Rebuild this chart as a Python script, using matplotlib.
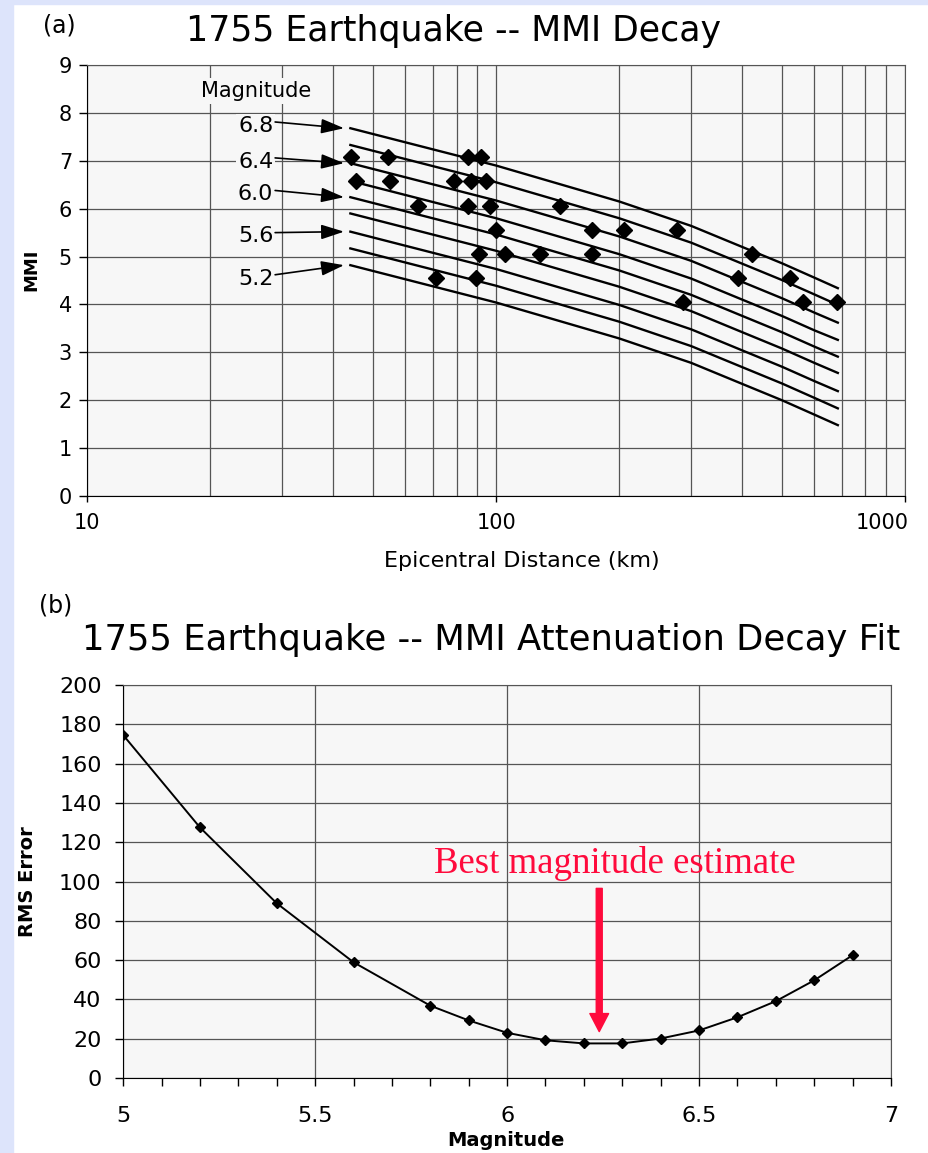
import matplotlib
matplotlib.use('Agg')
import matplotlib.pyplot as plt
from matplotlib.patches import Rectangle
from matplotlib.ticker import FixedLocator, LogLocator, NullFormatter, MultipleLocator

# ---- (a) MMI decay curves, one per magnitude
curve_dist = [44, 100, 200, 300, 400, 500, 600, 685]
curve_mags = [6.8, 6.6, 6.4, 6.2, 6.0, 5.8, 5.6, 5.4, 5.2]
curve_mmi = [
    [7.68, 6.90, 6.15, 5.64, 5.20, 4.86, 4.56, 4.34],
    [7.33, 6.55, 5.80, 5.29, 4.85, 4.51, 4.21, 3.99],
    [6.95, 6.17, 5.42, 4.91, 4.47, 4.13, 3.83, 3.62],
    [6.58, 5.80, 5.05, 4.54, 4.10, 3.76, 3.46, 3.26],
    [6.24, 5.46, 4.71, 4.20, 3.76, 3.42, 3.12, 2.91],
    [5.90, 5.12, 4.37, 3.86, 3.42, 3.08, 2.78, 2.57],
    [5.52, 4.74, 3.99, 3.48, 3.04, 2.70, 2.40, 2.19],
    [5.17, 4.39, 3.64, 3.13, 2.69, 2.35, 2.05, 1.83],
    [4.82, 4.04, 3.29, 2.78, 2.34, 2.00, 1.70, 1.48],
]

# observed intensities
obs_dist = [44.1, 54.4, 85.2, 91.8,
            45.5, 55.0, 78.9, 86.9, 94.5,
            64.3, 85.5, 96.5, 143.6,
            99.9, 171.3, 205.2, 276.6,
            90.9, 105.0, 128.3, 171.3, 421.7,
            71.3, 89.3, 391.4, 522.5,
            286.3, 564.0, 683.0]
obs_mmi = [7.07, 7.07, 7.07, 7.07,
           6.57, 6.57, 6.57, 6.57, 6.57,
           6.05, 6.05, 6.05, 6.05,
           5.55, 5.55, 5.55, 5.55,
           5.05, 5.05, 5.05, 5.05, 5.05,
           4.56, 4.56, 4.56, 4.56,
           4.06, 4.06, 4.06]

# labelled curves (index into curve_mags) and where the label sits (MMI)
label_idx = [0, 2, 4, 6, 8]
label_y = [7.73, 6.98, 6.30, 5.42, 4.54]

# ---- (b) RMS error vs magnitude
fit_mag = [5.0, 5.2, 5.4, 5.6, 5.8, 5.9, 6.0, 6.1, 6.2, 6.3, 6.4, 6.5, 6.6, 6.7, 6.8, 6.9]
fit_rms = [174.5, 127.5, 88.9, 58.9, 36.8, 29.3, 23.0, 19.2, 17.6, 17.6, 20.1, 24.2, 30.9, 39.1, 49.7, 62.5]
best_mag = 6.24

W, H = 929, 1153
bg = '#f7f7f7'
gridc = '#555555'
red = '#ff0a3c'

fig = plt.figure(figsize=(W / 100, H / 100), dpi=100)
fig.patch.set_facecolor('white')
lav = '#dde4fb'
fig.patches.append(Rectangle((0, 0), 13 / W, 1, transform=fig.transFigure, color=lav, zorder=0))
fig.patches.append(Rectangle((0, 1 - 4 / H), 1, 4 / H, transform=fig.transFigure, color=lav, zorder=0))

# ================= (a)
ax1 = fig.add_axes([87.3 / W, 1 - 496 / H, (905 - 87.3) / W, (496 - 65) / H])
ax1.set_facecolor(bg)
ax1.set_xscale('log')
for vals in curve_mmi:
    ax1.plot(curve_dist, vals, color='black', lw=1.7, zorder=3)
ax1.plot(obs_dist, obs_mmi, 'D', color='black', ms=8.5, zorder=4)
ax1.set_xlim(10, 1000)
ax1.set_ylim(0, 9)

ax1.xaxis.set_major_locator(FixedLocator([10, 100, 1000]))
ax1.set_xticklabels(['10', '100', ''])
ax1.xaxis.set_minor_locator(LogLocator(base=10, subs=range(2, 10)))
ax1.xaxis.set_minor_formatter(NullFormatter())
ax1.yaxis.set_major_locator(MultipleLocator(1))
ax1.set_axisbelow(True)
ax1.grid(True, which='both', axis='x', color=gridc, lw=0.9)
ax1.grid(True, which='major', axis='y', color=gridc, lw=0.9)
ax1.tick_params(axis='x', which='minor', length=0)
ax1.tick_params(axis='x', which='major', length=4.5, width=1, pad=8, labelsize=15)
ax1.tick_params(axis='y', length=6, width=1, pad=5, labelsize=15)
ax1.annotate('1000', xy=(1000, 0), xytext=(-16.5, -12.5), textcoords='offset points',
             ha='center', va='top', fontsize=15)
for s in ['top', 'right']:
    ax1.spines[s].set_color(gridc)
for s in ['left', 'bottom']:
    ax1.spines[s].set_color('black')

# magnitude labels with arrows to curve starts
ax1.text(25.9, 8.46, 'Magnitude', fontsize=15, ha='center', va='center', zorder=6,
         bbox=dict(facecolor=bg, edgecolor='none', pad=2))
for i, ly in zip(label_idx, label_y):
    ax1.text(28.5, ly, '%.1f' % curve_mags[i], fontsize=16, ha='right', va='center', zorder=6,
             bbox=dict(facecolor=bg, edgecolor='none', pad=1.5))
    ax1.annotate('', xy=(curve_dist[0] * 0.965, curve_mmi[i][0]), xytext=(28.8, ly + 0.08),
                 arrowprops=dict(arrowstyle='-|>,head_length=1.4,head_width=0.45',
                                 color='black', lw=1.2, mutation_scale=10,
                                 shrinkA=0, shrinkB=0), zorder=6)

fig.text(454 / W, 1 - 31 / H, '1755 Earthquake -- MMI Decay', fontsize=25, ha='center', va='center')
fig.text(59 / W, 1 - 25 / H, '(a)', fontsize=17, ha='center', va='center')
fig.text(522 / W, 1 - 561 / H, 'Epicentral Distance (km)', fontsize=16, ha='center', va='center')
fig.text(31 / W, 1 - 270 / H, 'MMI', fontsize=13, fontweight='bold', rotation=90, ha='center', va='center')

# ================= (b)
ax2 = fig.add_axes([123.2 / W, 1 - 1078 / H, (891 - 123.2) / W, (1078 - 685) / H])
ax2.set_facecolor(bg)
ax2.plot(fit_mag, fit_rms, color='black', lw=1.4, marker='D', ms=5.5, zorder=3)
ax2.set_xlim(5, 7)
ax2.set_ylim(0, 200)
ax2.xaxis.set_major_locator(MultipleLocator(0.5))
ax2.xaxis.set_minor_locator(MultipleLocator(0.1))
ax2.yaxis.set_major_locator(MultipleLocator(20))
ax2.xaxis.set_major_formatter(plt.FuncFormatter(lambda v, p: ('%g' % v)))
ax2.set_axisbelow(True)
ax2.grid(True, which='major', color=gridc, lw=0.9)
ax2.tick_params(axis='x', which='both', length=5.5, width=1, pad=15, labelsize=16)
ax2.tick_params(axis='y', length=5.5, width=1, pad=10, labelsize=16)
for s in ['top', 'right']:
    ax2.spines[s].set_color(gridc)
for s in ['left', 'bottom']:
    ax2.spines[s].set_color('black')

ax2.text(6.28, 104.3, 'Best magnitude estimate', color=red, fontsize=26.5,
         family='Liberation Serif', ha='center', va='baseline', zorder=5)
ax2.annotate('', xy=(best_mag, 23.6), xytext=(best_mag, 96.5),
             arrowprops=dict(width=4.3, headwidth=13.5, headlength=13, color=red, shrink=0),
             zorder=5)

fig.text(491 / W, 1 - 640 / H, '1755 Earthquake -- MMI Attenuation Decay Fit', fontsize=25.5,
         ha='center', va='center')
fig.text(56 / W, 1 - 605 / H, '(b)', fontsize=17, ha='center', va='center')
fig.text(506 / W, 1 - 1141 / H, 'Magnitude', fontsize=14, fontweight='bold', ha='center', va='center')
fig.text(28 / W, 1 - 882 / H, 'RMS Error', fontsize=14, fontweight='bold', rotation=90,
         ha='center', va='center')

fig.savefig('out.png', dpi=100)
